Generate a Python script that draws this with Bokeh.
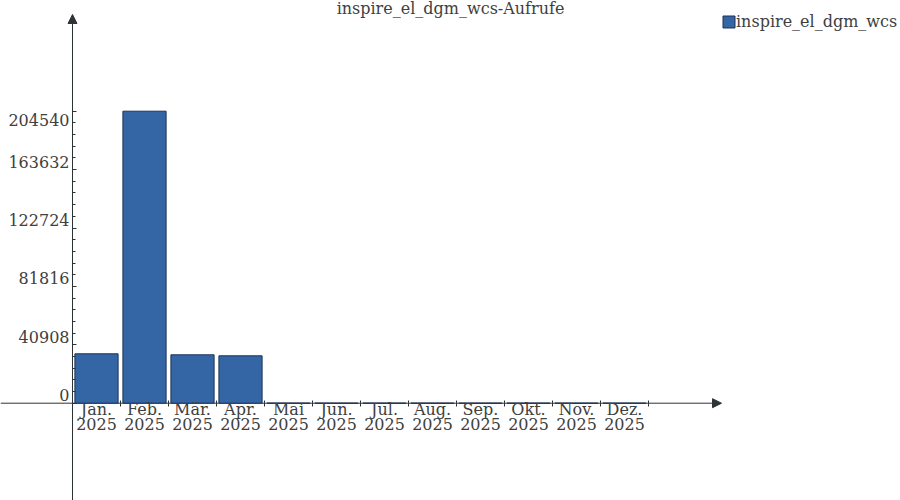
from bokeh.plotting import figure
from bokeh.models import (Range1d, LinearAxis, FixedTicker, Arrow, NormalHead,
                          Legend, LegendItem, ColumnDataSource)
from bokeh.core.properties import value
from bokeh.embed import file_html
from bokeh.resources import INLINE

# ---- data ----
months = ["Jan.", "Feb.", "Mär.", "Apr.", "Mai", "Jun.", "Jul.", "Aug.",
          "Sep.", "Okt.", "Nov.", "Dez."]
year = "2025"
calls = [34600, 204540, 33900, 33200, 0, 0, 0, 0, 0, 0, 0, 0]
y_ticks = [0, 40908, 81816, 122724, 163632, 204540]
series_name = "inspire_el_dgm_wcs"
chart_title = "inspire_el_dgm_wcs-Aufrufe"

# ---- layout constants (pixels) ----
W, H = 900, 500
X0_PX = 72          # pixel x of category origin (y axis)
CAT_PX = 48         # pixel width of one category
Y0_PX = 402.7       # pixel y of value 0
TOP_TICK_PX = 110.7 # pixel y of highest tick
ppu = (Y0_PX - TOP_TICK_PX) / y_ticks[-1]

def x_at(px):
    return (px - X0_PX) / CAT_PX

def y_at(py):
    return (Y0_PX - py) / ppu

FONT = value("DejaVu Serif")
TXT = "#404040"
AX = "#2e3436"
FILL = "#3465a4"
EDGE = "#1c3357"

p = figure(width=W, height=H, x_range=Range1d(x_at(0), x_at(W)),
           y_range=Range1d(y_at(H), y_at(0)),
           output_backend="svg", toolbar_location=None,
           x_axis_type=None, y_axis_type=None, min_border=0,
           outline_line_color=None, background_fill_color="white",
           border_fill_color="white",
           styles={"position": "absolute", "left": "0px", "top": "0px", "margin": "0px"})

# axis lines with arrow heads
p.add_layout(Arrow(end=NormalHead(size=9, fill_color=AX, line_color=AX, line_width=1),
                   x_start=x_at(0), y_start=0, x_end=x_at(721), y_end=0,
                   line_color=AX, line_width=1, level="underlay"))
p.add_layout(Arrow(end=NormalHead(size=9, fill_color=AX, line_color=AX, line_width=1),
                   x_start=0, y_start=y_at(H), x_end=0, y_end=y_at(14),
                   line_color=AX, line_width=1, level="underlay"))

# y axis ticks
step = y_ticks[1] - y_ticks[0]
minor = [y_ticks[0] + k * step / 5 for k in range(1, 5 * (len(y_ticks) - 1))]
yaxis = LinearAxis(fixed_location=0,
                   ticker=FixedTicker(ticks=y_ticks, minor_ticks=minor),
                   axis_line_color=None, major_tick_in=4, major_tick_out=0,
                   minor_tick_in=3, minor_tick_out=0,
                   major_tick_line_color=AX, minor_tick_line_color=AX,
                   major_label_overrides={t: "" for t in y_ticks})
p.add_layout(yaxis, "left")

# x axis ticks at category boundaries
bounds = list(range(1, len(months) + 1))
xaxis = LinearAxis(fixed_location=0,
                   ticker=FixedTicker(ticks=bounds, minor_ticks=[]),
                   axis_line_color=None, major_tick_in=3, major_tick_out=3,
                   minor_tick_in=0, minor_tick_out=0,
                   major_tick_line_color=AX,
                   major_label_overrides={b: "" for b in bounds})
p.add_layout(xaxis, "below")

src = ColumnDataSource(dict(x=[i + 0.5 for i in range(len(months))],
                            top=calls, month=months,
                            year=[year] * len(months)))
bars = p.vbar(x="x", top="top", bottom=0, width=0.9, source=src,
              fill_color=FILL, line_color=EDGE, line_width=1)

# x tick labels (two lines)
p.text(x="x", y=0, text="month", source=src, text_font=FONT, text_font_size="16px",
       text_color=TXT, text_align="center", text_baseline="middle", y_offset=6)
p.text(x="x", y=0, text="year", source=src, text_font=FONT, text_font_size="16px",
       text_color=TXT, text_align="center", text_baseline="middle", y_offset=20.5)

# y tick labels
yoff = [-8] * (len(y_ticks) - 1) + [9]
ysrc = ColumnDataSource(dict(y=y_ticks, t=[str(v) for v in y_ticks], off=yoff))
p.text(x=0, y="y", text="t", source=ysrc, text_font=FONT, text_font_size="16px",
       text_color=TXT, text_align="right", text_baseline="middle",
       x_offset=-3, y_offset="off")

# title
p.text(x=[x_at(W / 2)], y=[y_at(7.5)], text=[chart_title], text_font=FONT,
       text_font_size="16px", text_color=TXT, text_align="center",
       text_baseline="middle")

# legend
legend = Legend(items=[LegendItem(label=series_name, renderers=[bars])],
                location=(721, H - 31), orientation="vertical",
                glyph_width=15, glyph_height=15, label_height=15,
                label_standoff=0, padding=0, margin=0, spacing=0,
                border_line_color=None, background_fill_alpha=0,
                label_text_font="DejaVu Serif", label_text_font_size="16px",
                label_text_color=TXT)
p.add_layout(legend, "center")

open("out.html", "w").write(file_html(p, INLINE))
